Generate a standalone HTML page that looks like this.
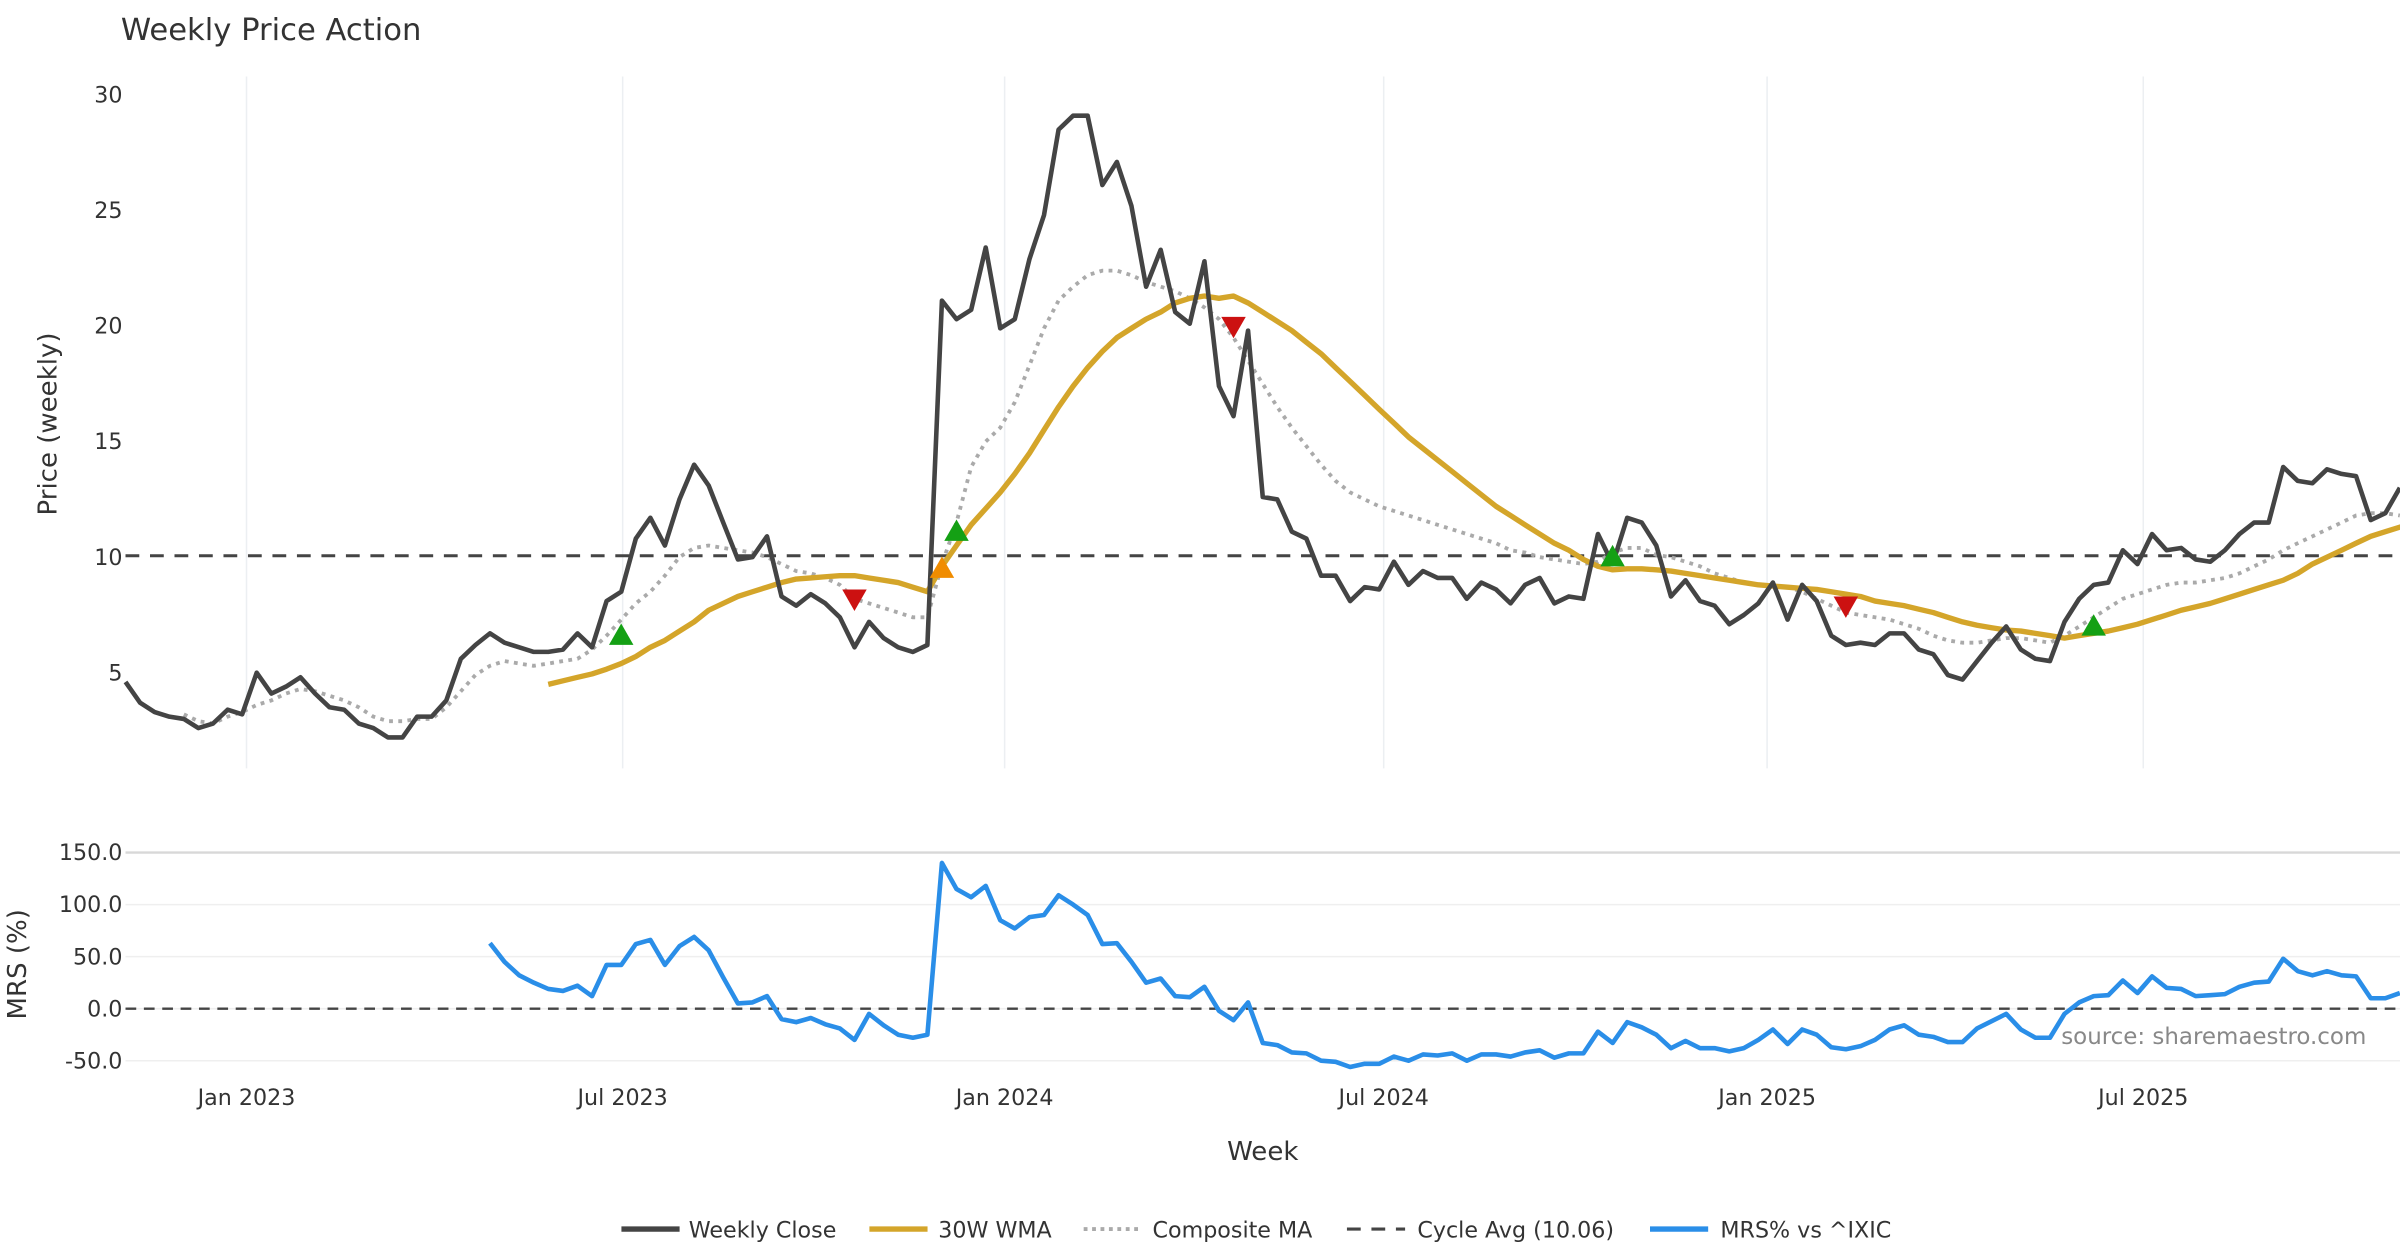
<!DOCTYPE html>
<html><head><meta charset="utf-8"><style>
html,body{margin:0;padding:0;background:#fff;}
svg{display:block;font-family:"DejaVu Sans","Liberation Sans",sans-serif;}
</style></head><body>
<svg id="chart" width="2400" height="1260" viewBox="0 0 1568 823.2" xmlns="http://www.w3.org/2000/svg">
<rect width="1568" height="823.2" fill="#fff"/>
<text x="79" y="26" font-size="20" fill="#333">Weekly Price Action</text>
<g id="grid"></g>
<g id="series"></g>
<text transform="translate(37,277) rotate(-90)" text-anchor="middle" font-size="17" fill="#333">Price (weekly)</text>
<text transform="translate(17,630) rotate(-90)" text-anchor="middle" font-size="17" fill="#333">MRS (%)</text>
<text x="825" y="758" text-anchor="middle" font-size="17" fill="#333">Week</text>
<text x="1546" y="682" text-anchor="end" font-size="15" fill="#888">source: sharemaestro.com</text>
<g font-size="14.5" fill="#333">
 <g><line x1="406" y1="803" x2="444" y2="803" stroke="#444" stroke-width="3.5"/><text x="450" y="808.5">Weekly Close</text></g>
 <g><line x1="568" y1="803" x2="606" y2="803" stroke="#d4a52a" stroke-width="3.5"/><text x="613" y="808.5">30W WMA</text></g>
 <g><line x1="708" y1="803" x2="746" y2="803" stroke="#aaa" stroke-width="2.5" stroke-dasharray="2.5,3"/><text x="753" y="808.5">Composite MA</text></g>
 <g><line x1="880" y1="803" x2="918" y2="803" stroke="#444" stroke-width="2" stroke-dasharray="9,7"/><text x="926" y="808.5">Cycle Avg (10.06)</text></g>
 <g><line x1="1078" y1="803" x2="1116" y2="803" stroke="#2a8ee8" stroke-width="3.5"/><text x="1124" y="808.5">MRS% vs ^IXIC</text></g>
</g>
</svg>
<script>
const closeVals=[4.6,3.7,3.3,3.1,3.0,2.6,2.8,3.4,3.2,5.0,4.1,4.4,4.8,4.1,3.5,3.4,2.8,2.6,2.2,2.2,3.1,3.1,3.8,5.6,6.2,6.7,6.3,6.1,5.9,5.9,6.0,6.7,6.1,8.1,8.5,10.8,11.7,10.5,12.5,14.0,13.1,11.5,9.9,10.0,10.9,8.3,7.9,8.4,8.0,7.4,6.1,7.2,6.5,6.1,5.9,6.2,21.1,20.3,20.7,23.4,19.9,20.3,22.9,24.8,28.5,29.1,29.1,26.1,27.1,25.2,21.7,23.3,20.6,20.1,22.8,17.4,16.1,19.8,12.6,12.5,11.1,10.8,9.2,9.2,8.1,8.7,8.6,9.8,8.8,9.4,9.1,9.1,8.2,8.9,8.6,8.0,8.8,9.1,8.0,8.3,8.2,11.0,9.7,11.7,11.5,10.5,8.3,9.0,8.1,7.9,7.1,7.5,8.0,8.9,7.3,8.8,8.1,6.6,6.2,6.3,6.2,6.7,6.7,6.0,5.8,4.9,4.7,5.5,6.3,7.0,6.0,5.6,5.5,7.2,8.2,8.8,8.9,10.3,9.7,11.0,10.3,10.4,9.9,9.8,10.3,11.0,11.5,11.5,13.9,13.3,13.2,13.8,13.6,13.5,11.6,11.9,13.0];
const wmaStart=29;
const wmaVals=[4.5,4.65,4.8,4.95,5.15,5.4,5.7,6.1,6.4,6.8,7.2,7.7,8.0,8.3,8.5,8.7,8.9,9.05,9.1,9.15,9.2,9.2,9.1,9.0,8.9,8.7,8.5,9.6,10.5,11.4,12.1,12.8,13.6,14.5,15.5,16.5,17.4,18.2,18.9,19.5,19.9,20.3,20.6,21.0,21.2,21.3,21.2,21.3,21.0,20.6,20.2,19.8,19.3,18.8,18.2,17.6,17.0,16.4,15.8,15.2,14.7,14.2,13.7,13.2,12.7,12.2,11.8,11.4,11.0,10.6,10.3,9.9,9.6,9.45,9.5,9.5,9.45,9.4,9.3,9.2,9.1,9.0,8.9,8.8,8.75,8.7,8.65,8.6,8.5,8.4,8.3,8.1,8.0,7.9,7.75,7.6,7.4,7.2,7.05,6.95,6.85,6.8,6.7,6.6,6.5,6.6,6.7,6.8,6.95,7.1,7.3,7.5,7.7,7.85,8.0,8.2,8.4,8.6,8.8,9.0,9.3,9.7,10.0,10.3,10.6,10.9,11.1,11.3,11.45];
const compStart=4;
const compVals=[3.2,2.9,2.8,3.1,3.3,3.6,3.8,4.1,4.3,4.2,4.0,3.8,3.5,3.1,2.9,2.9,3.0,3.0,3.5,4.2,4.9,5.3,5.5,5.4,5.3,5.4,5.5,5.6,6.0,6.6,7.3,8.0,8.5,9.2,10.0,10.4,10.5,10.4,10.3,10.2,10.0,9.7,9.4,9.3,9.1,8.8,8.2,8.0,7.8,7.6,7.4,7.4,9.7,11.5,13.9,15.0,15.6,16.7,18.3,19.9,21.1,21.7,22.2,22.4,22.4,22.2,21.9,21.7,21.5,21.2,20.8,20.3,19.5,18.5,17.5,16.5,15.6,14.8,14.0,13.3,12.8,12.5,12.2,12.0,11.8,11.6,11.4,11.2,11.0,10.8,10.6,10.3,10.2,10.0,9.9,9.8,9.7,9.8,10.2,10.4,10.4,10.1,10.0,9.8,9.6,9.3,9.1,8.9,8.8,8.7,8.7,8.5,8.2,7.9,7.6,7.5,7.4,7.3,7.1,6.9,6.6,6.4,6.3,6.3,6.4,6.5,6.5,6.4,6.3,6.6,7.0,7.4,7.8,8.2,8.4,8.6,8.8,8.9,8.9,9.0,9.1,9.3,9.6,9.9,10.3,10.6,10.9,11.2,11.5,11.8,11.9,11.9,11.8];
const mrsStart=25;
const mrsVals=[63,45,32,25,19,17,22,12,42,42,62,66,42,60,69,56,30,5,6,12,-10,-13,-9,-15,-19,-30,-5,-16,-25,-28,-25,140,115,107,118,85,77,88,90,109,100,90,62,63,45,25,29,12,11,21,-2,-11,6,-33,-35,-42,-43,-50,-51,-56,-53,-53,-46,-50,-44,-45,-43,-50,-44,-44,-46,-42,-40,-47,-43,-43,-22,-33,-13,-18,-25,-38,-31,-38,-38,-41,-38,-30,-20,-34,-20,-25,-37,-39,-36,-30,-20,-16,-25,-27,-32,-32,-19,-12,-5,-20,-28,-28,-5,6,12,13,27,15,31,20,19,12,13,14,21,25,26,48,36,32,36,32,31,10,10,15];
const buyIdx=[34,57,102,135];
const buyVals=[6.6,11.1,10.0,7.0];
const orangeIdx=[56];
const orangeVals=[9.5];
const sellIdx=[50,76,118];
const sellVals=[8.2,20.0,7.9];
const cycleAvg=10.06;
const priceTicks=[5,10,15,20,25,30];
const mrsTicks=[-50,0,50,100,150];
const dateLabels=["Jan 2023","Jul 2023","Jan 2024","Jul 2024","Jan 2025","Jul 2025"];
const dateIdx=[8.3,34.1,60.3,86.3,112.6,138.4];

const NS="http://www.w3.org/2000/svg";
const X=i=>82+i*9.525;
const YP=v=>364-(v-10)*15.1;
const YM=v=>659-v*0.68;
const grid=document.getElementById('grid'), ser=document.getElementById('series');
function mk(tag,attrs,parent){const e=document.createElementNS(NS,tag);for(const k in attrs)e.setAttribute(k,attrs[k]);parent.appendChild(e);return e;}

dateIdx.forEach((d,k)=>{
  const l=mk('line',{x1:X(d),x2:X(d),y1:50,y2:502,stroke:'#eceff2','stroke-width':1},grid);
  
  
  const t=mk('text',{x:X(d),y:722,'text-anchor':'middle','font-size':14.5,fill:'#333'},grid);
  t.textContent=dateLabels[k];
  
  
});
priceTicks.forEach(v=>{
  const t=mk('text',{x:80,y:YP(v)+5,'text-anchor':'end','font-size':14.5,fill:'#333'},grid);
  t.textContent=v;
  
  
});
mrsTicks.forEach(v=>{
  const l=mk('line',{x1:82,x2:1568,y1:YM(v),y2:YM(v),stroke:v===150?'#d8d8d8':'#efefef','stroke-width':v===150?1.5:1},grid);
  
  
  const t=mk('text',{x:80,y:YM(v)+5,'text-anchor':'end','font-size':14.5,fill:'#333'},grid);
  t.textContent=v.toFixed(1);
  
  
});

const cyc=mk('line',{x1:82,x2:1568,y1:YP(cycleAvg),y2:YP(cycleAvg),stroke:'#444','stroke-width':2,'stroke-dasharray':'9,7'},ser);


const zl=mk('line',{x1:82,x2:1568,y1:YM(0),y2:YM(0),stroke:'#444','stroke-width':1.5,'stroke-dasharray':'7,5'},ser);



function pts(vals,start,Y){return vals.map((v,i)=>X(i+start).toFixed(1)+','+Y(v).toFixed(1)).join(' ');}
const comp=mk('polyline',{points:pts(compVals,compStart,YP),fill:'none',stroke:'#aaa','stroke-width':2.5,'stroke-dasharray':'2.5,3.5'},ser);


const wma=mk('polyline',{points:pts(wmaVals,wmaStart,YP),fill:'none',stroke:'#d4a52a','stroke-width':3.5,'stroke-linejoin':'round'},ser);


const cl=mk('polyline',{points:pts(closeVals,0,YP),fill:'none',stroke:'#444','stroke-width':3,'stroke-linejoin':'round'},ser);


const mr=mk('polyline',{points:pts(mrsVals,mrsStart,YM),fill:'none',stroke:'#2a8ee8','stroke-width':3,'stroke-linejoin':'round'},ser);



function tri(i,v,up,color,name){
  const x=X(i),y=YP(v),s=8;
  const p=up?`${x-s},${y+6} ${x+s},${y+6} ${x},${y-8}`:`${x-s},${y-6} ${x+s},${y-6} ${x},${y+8}`;
  const t=mk('polygon',{points:p,fill:color},ser);
  
  
}
buyIdx.forEach((i,k)=>tri(i,buyVals[k],true,'#14a014','buy-signal-marker'));
orangeIdx.forEach((i,k)=>tri(i,orangeVals[k],true,'#f08c00','cross-signal-marker'));
sellIdx.forEach((i,k)=>tri(i,sellVals[k],false,'#cc1111','sell-signal-marker'));
</script>
</body></html>
